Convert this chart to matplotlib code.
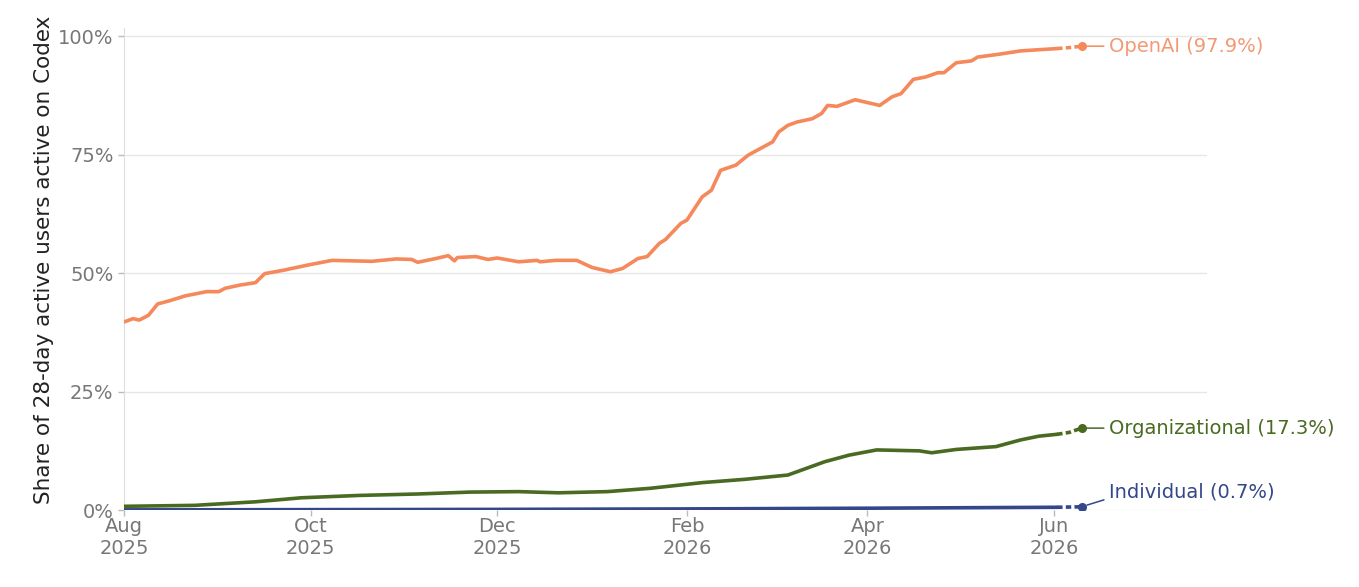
import matplotlib
matplotlib.use("Agg")
import matplotlib.pyplot as plt
import matplotlib.dates as mdates
import pandas as pd

# share of 28-day active users active on Codex (%)
openai_dates = ["2025-08-01", "2025-08-04", "2025-08-06", "2025-08-09", "2025-08-12",
                "2025-08-16", "2025-08-21", "2025-08-28", "2025-09-01", "2025-09-03",
                "2025-09-08", "2025-09-13", "2025-09-16", "2025-09-22", "2025-09-30",
                "2025-10-08", "2025-10-21", "2025-10-29", "2025-11-03", "2025-11-05",
                "2025-11-11", "2025-11-15", "2025-11-17", "2025-11-18", "2025-11-24",
                "2025-11-28", "2025-12-01", "2025-12-08", "2025-12-14", "2025-12-15",
                "2025-12-20", "2025-12-27", "2026-01-01", "2026-01-07", "2026-01-11",
                "2026-01-16", "2026-01-19", "2026-01-23", "2026-01-25", "2026-01-30",
                "2026-02-01", "2026-02-06", "2026-02-09", "2026-02-12", "2026-02-17",
                "2026-02-21", "2026-02-25", "2026-03-01", "2026-03-03", "2026-03-06",
                "2026-03-09", "2026-03-14", "2026-03-17", "2026-03-19", "2026-03-22",
                "2026-03-28", "2026-04-05", "2026-04-09", "2026-04-12", "2026-04-16",
                "2026-04-20", "2026-04-24", "2026-04-26", "2026-04-30", "2026-05-05",
                "2026-05-07", "2026-05-14", "2026-05-21", "2026-06-02", "2026-06-06",
                "2026-06-10"]
openai_vals = [39.7, 40.4, 40.1, 41.1, 43.5, 44.2, 45.2, 46.1, 46.1, 46.8,
               47.5, 48.0, 49.9, 50.6, 51.7, 52.7, 52.5, 53.0, 52.9, 52.3,
               53.1, 53.7, 52.6, 53.3, 53.5, 52.9, 53.2, 52.4, 52.7, 52.4,
               52.7, 52.7, 51.2, 50.3, 51.0, 53.1, 53.5, 56.3, 57.1, 60.5,
               61.2, 66.1, 67.5, 71.7, 72.8, 74.9, 76.3, 77.7, 79.8, 81.2,
               81.9, 82.6, 83.7, 85.4, 85.2, 86.6, 85.4, 87.2, 87.9, 90.9,
               91.4, 92.3, 92.3, 94.4, 94.8, 95.6, 96.2, 96.9, 97.4, 97.6,
               97.9]

org_dates = ["2025-08-01", "2025-08-24", "2025-09-13", "2025-09-28", "2025-10-17",
             "2025-11-05", "2025-11-22", "2025-12-08", "2025-12-21", "2026-01-06",
             "2026-01-20", "2026-02-06", "2026-02-20", "2026-03-06", "2026-03-12",
             "2026-03-18", "2026-03-26", "2026-04-04", "2026-04-18", "2026-04-22",
             "2026-04-30", "2026-05-13", "2026-05-21", "2026-05-27", "2026-06-02",
             "2026-06-06", "2026-06-10"]
org_vals = [0.8, 1.0, 1.75, 2.6, 3.1, 3.4, 3.8, 3.9, 3.65, 3.9,
            4.6, 5.8, 6.5, 7.4, 8.8, 10.2, 11.6, 12.7, 12.5, 12.1,
            12.8, 13.4, 14.8, 15.6, 16.0, 16.4, 17.3]

ind_dates = ["2025-08-01", "2025-10-01", "2025-12-01", "2026-02-01", "2026-04-01",
             "2026-06-02", "2026-06-06", "2026-06-10"]
ind_vals = [0.05, 0.1, 0.15, 0.25, 0.4, 0.6, 0.65, 0.7]

series = [
    ("OpenAI", openai_dates, openai_vals, "#F5895C", "#F29A74"),
    ("Organizational", org_dates, org_vals, "#4A6A22", "#4A6A22"),
    ("Individual", ind_dates, ind_vals, "#33478A", "#33478A"),
]
partial_from = pd.Timestamp("2026-06-02")   # last days drawn dashed

tick_col = "#777777"

fig = plt.figure(figsize=(13.59, 5.87), dpi=100)
ax = fig.add_axes([0.0912, 0.131, 0.797, 0.821])

for name, d, v, col, txt_col in series:
    s = pd.Series(v, index=pd.to_datetime(d))
    full = s[s.index <= partial_from]
    part = s[s.index >= partial_from]
    ax.plot(full.index, full.values, color=col, lw=2.6, solid_capstyle="round", zorder=3)
    ax.plot(part.index, part.values, color=col, lw=2.6, ls=(0, (1.5, 0.9)), zorder=3)
    ax.plot(s.index[-1], s.values[-1], "o", color=col, ms=5.5, zorder=4)
    dy = 11 if name == "Individual" else 0
    ax.annotate(f"{name} ({s.values[-1]:.1f}%)",
                xy=(s.index[-1], s.values[-1]), xytext=(20, dy),
                textcoords="offset points", ha="left", va="center",
                fontsize=14, color=txt_col,
                arrowprops=dict(arrowstyle="-", color=col, lw=1.1,
                                shrinkA=2, shrinkB=4,
                                relpos=(0, 0.5) if dy == 0 else (0, 0.15)))

ax.set_ylim(0, 101.7)
ax.set_xlim(pd.Timestamp("2025-08-01"), pd.Timestamp("2026-07-21"))
ax.set_yticks([0, 25, 50, 75, 100])
ax.set_yticklabels(["0%", "25%", "50%", "75%", "100%"])
ax.xaxis.set_major_locator(mdates.MonthLocator(bymonth=[2, 4, 6, 8, 10, 12]))
ax.xaxis.set_major_formatter(mdates.DateFormatter("%b\n%Y"))

ax.grid(axis="y", color="#E6E6E6", lw=1)
ax.set_axisbelow(True)
for sp in ["top", "right", "bottom"]:
    ax.spines[sp].set_visible(False)
ax.spines["left"].set_color("#DDDDDD")
ax.tick_params(axis="both", colors="#BBBBBB", labelcolor=tick_col,
               labelsize=14, length=4, width=1)
ax.tick_params(axis="x", pad=1)

ax.set_ylabel("Share of 28-day active users active on Codex",
              fontsize=15.5, color="#222222")
ax.yaxis.set_label_coords(-0.065, 0.52)

fig.savefig("out.png", dpi=100)
